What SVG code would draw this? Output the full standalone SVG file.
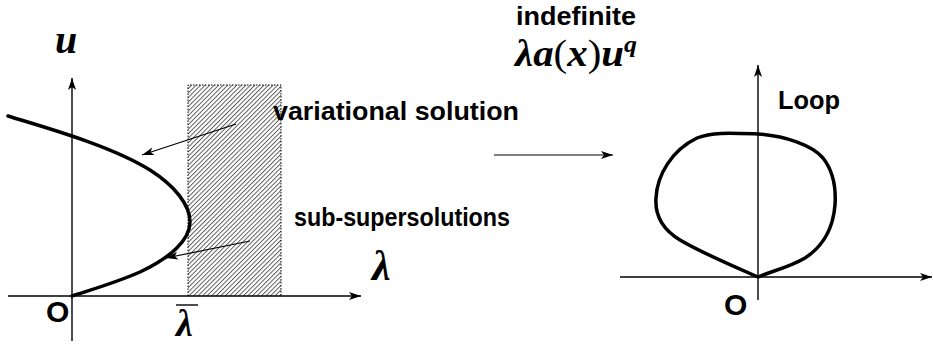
<svg xmlns="http://www.w3.org/2000/svg" width="933" height="348" viewBox="0 0 933 348">
<style>
.ax{stroke:#000;stroke-width:1.4;fill:none}
.cv{stroke:#000;stroke-width:3.5;fill:none;stroke-linejoin:round;stroke-linecap:round}
.ar{stroke:#000;stroke-width:1.2;fill:none}
.lb{font-family:"Liberation Sans",Arial,sans-serif;font-weight:bold;fill:#000}
.mi{font-family:"Liberation Serif","Times New Roman",serif;font-style:italic;font-weight:bold;fill:#000}
.mr{font-family:"Liberation Serif","Times New Roman",serif;fill:#000}
.dot{stroke:#000;stroke-width:1;stroke-dasharray:1.5 1.5;fill:none}
</style>
<defs>
<marker id="ah" markerUnits="userSpaceOnUse" markerWidth="14" markerHeight="10" refX="12" refY="4" orient="auto">
<path d="M0,0 L12,4 L0,8 L3,4 Z" fill="#000"/>
</marker>
<pattern id="hatch" patternUnits="userSpaceOnUse" width="3.2" height="10" patternTransform="rotate(45)">
<line x1="0.5" y1="0" x2="0.5" y2="10" stroke="#222" stroke-width="0.8"/>
</pattern>
</defs>

<g id="left-plot">
<rect x="188" y="85" width="93" height="211" fill="url(#hatch)"/>
<path class="dot" d="M188,296 V85 H281 V296"/>
<g id="left-axes">
<line class="ax" x1="8" y1="296" x2="361" y2="296" marker-end="url(#ah)"/>
<line class="ax" x1="72" y1="341" x2="72" y2="78" marker-end="url(#ah)"/>
</g>
<path id="bifurcation-curve" class="cv" d="M8,116 C40,126 110,145 150,170 C175,186 190,205 190,222 C190,240 170,258 140,272 C115,283 90,290 72,296"/>
<text class="mi" x="55" y="53" font-size="40">u</text>
<text class="mi" x="372" y="280" font-size="42">λ</text>
<text class="lb" x="46" y="322" font-size="30">O</text>
<g id="lambda-bar">
<line x1="176" y1="305" x2="198" y2="305" stroke="#000" stroke-width="1.4"/>
<text class="mi" x="176" y="336" font-size="38">λ</text>
</g>
</g>

<g id="labels">
<text id="variational" class="lb" x="273" y="120" font-size="26" textLength="246" lengthAdjust="spacingAndGlyphs">variational solution</text>
<text id="subsuper" class="lb" x="294" y="226" font-size="26" textLength="216" lengthAdjust="spacingAndGlyphs">sub-supersolutions</text>
<text id="indefinite" class="lb" x="516" y="25" font-size="26" textLength="120" lengthAdjust="spacingAndGlyphs">indefinite</text>
<text id="formula" x="515" y="66" font-size="38" textLength="122" lengthAdjust="spacingAndGlyphs"><tspan class="mi">λa</tspan><tspan class="mr">(</tspan><tspan class="mi">x</tspan><tspan class="mr">)</tspan><tspan class="mi">u</tspan><tspan class="mi" font-size="24" dy="-14">q</tspan></text>
<text id="loop" class="lb" x="778" y="109" font-size="25" textLength="62" lengthAdjust="spacingAndGlyphs">Loop</text>
</g>

<g id="connectors">
<line class="ar" x1="236" y1="124" x2="142" y2="155" marker-end="url(#ah)"/>
<line class="ar" x1="250" y1="241" x2="166" y2="258" marker-end="url(#ah)"/>
<line class="ar" x1="494" y1="155" x2="613" y2="155" marker-end="url(#ah)"/>
</g>

<g id="right-plot">
<line class="ax" x1="620" y1="277" x2="932" y2="277" marker-end="url(#ah)"/>
<line class="ax" x1="758" y1="300" x2="758" y2="65" marker-end="url(#ah)"/>
<path id="loop-curve" class="cv" d="M758,277 C735,267 700,252 680,240 C660,228 655,212 656,198 C657,175 672,150 697,138 C712,132 730,133 758,134 C785,136 812,145 823,158 C834,172 836,190 835,205 C833,230 822,247 805,258 C790,267 772,271 758,277 Z"/>
<text class="lb" x="724" y="315" font-size="30">O</text>
</g>
</svg>
